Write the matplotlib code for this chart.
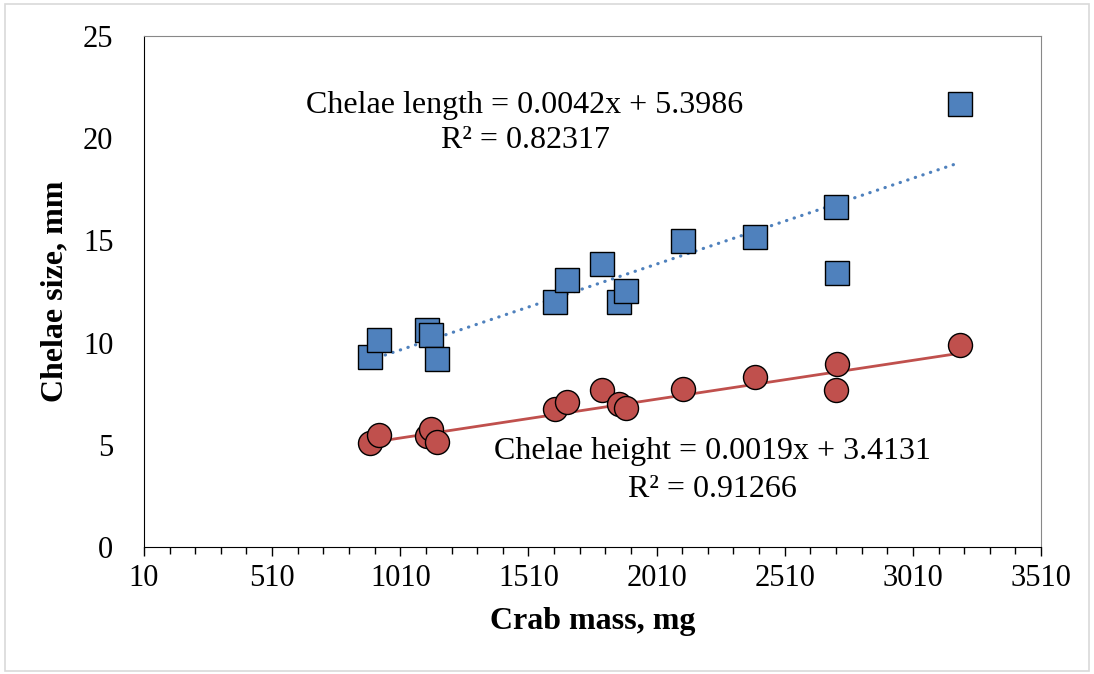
import numpy as np
import matplotlib
matplotlib.use('Agg')
import matplotlib.pyplot as plt
from matplotlib.patches import Rectangle

# crab mass, mg
mass = [892, 927, 1114, 1130, 1153, 1614, 1660, 1797, 1863, 1890, 2113, 2394, 2710, 2714, 3194]
# chelae length, mm
length = [9.30, 10.13, 10.62, 10.37, 9.20, 11.99, 13.06, 13.85, 11.99, 12.52, 14.97, 15.17, 16.63, 13.41, 21.67]
# chelae height, mm
height = [5.10, 5.46, 5.43, 5.79, 5.12, 6.74, 7.11, 7.68, 7.00, 6.78, 7.73, 8.33, 7.68, 8.97, 9.88]

# trendline coefficients as printed on the chart
len_fit = (0.0042, 5.3986, 0.82317)
hgt_fit = (0.0019, 3.4131, 0.91266)

blue = '#4F81BD'
red = '#C0504D'

plt.rcParams['font.family'] = ['Liberation Serif', 'DejaVu Serif']

fig = plt.figure(figsize=(10.94, 6.74), dpi=100)
ax = fig.add_axes([0.1316, 0.1884, 0.82, 0.7582])

fig.patches.append(Rectangle((0.005, 0.004), 0.99, 0.99, transform=fig.transFigure,
                             fill=False, edgecolor='#d9d9d9', lw=1.2))

xs = np.array([min(mass), max(mass)])
ax.plot(xs, len_fit[0] * xs + len_fit[1], color=blue, lw=2.3,
        linestyle=(0, (0.1, 2.4)), dash_capstyle='round', zorder=2)
ax.plot(xs, hgt_fit[0] * xs + hgt_fit[1], color=red, lw=2.0, zorder=2)

ax.plot(mass, length, 's', ms=17, mfc=blue, mec='black', mew=1.0, zorder=3)
ax.plot(mass, height, 'o', ms=17.3, mfc=red, mec='black', mew=1.0, zorder=3)

ax.text(1497, 21.6, 'Chelae length = %.4fx + %.4f' % (len_fit[0], len_fit[1]),
        ha='center', va='center', fontsize=23)
ax.text(1497, 19.9, 'R² = %.5f' % len_fit[2], ha='center', va='center', fontsize=23)
ax.text(2226, 4.65, 'Chelae height = %.4fx + %.4f' % (hgt_fit[0], hgt_fit[1]),
        ha='center', va='center', fontsize=23)
ax.text(2226, 2.8, 'R² = %.5f' % hgt_fit[2], ha='center', va='center', fontsize=23)

ax.set_xlim(10, 3510)
ax.set_ylim(0, 25)
ax.set_xticks(np.arange(10, 3511, 500))
ax.set_xticks(np.arange(10, 3511, 100), minor=True)
ax.set_yticks(np.arange(0, 26, 5))
ax.tick_params(axis='x', which='major', direction='out', length=6.5, width=1, labelsize=22, pad=6)
ax.tick_params(axis='x', which='minor', direction='out', length=5, width=1)
ax.tick_params(axis='y', length=0, labelsize=22, pad=22)

ax.spines['top'].set_color('#888888')
ax.spines['right'].set_color('#888888')
for s in ['left', 'bottom']:
    ax.spines[s].set_color('black')

ax.set_xlabel('Crab mass, mg', fontsize=23, fontweight='bold', labelpad=10)
ax.set_ylabel('Chelae size, mm', fontsize=23, fontweight='bold', labelpad=10)

fig.savefig('out.png', dpi=100)
